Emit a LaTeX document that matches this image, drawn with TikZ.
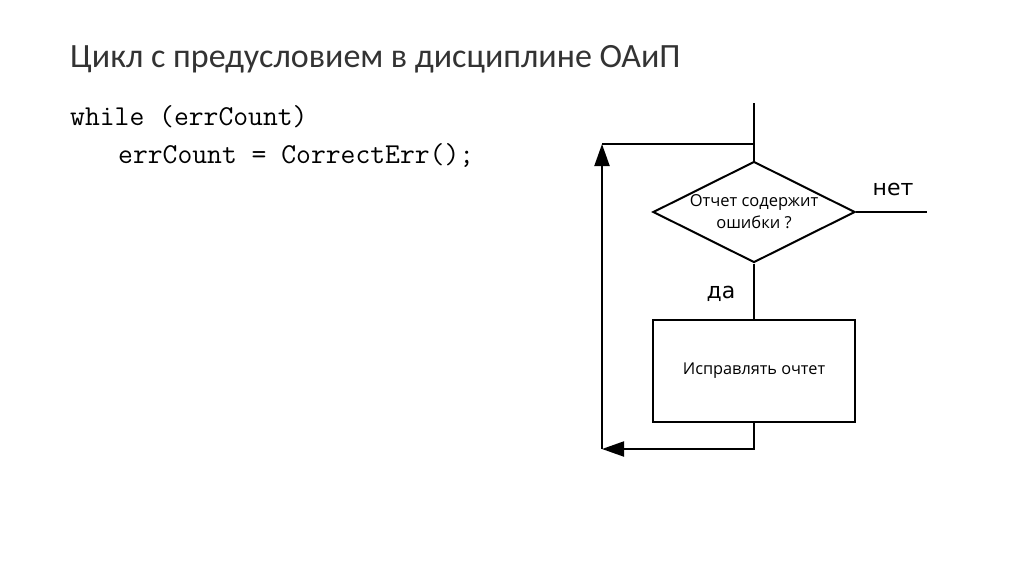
\documentclass[tikz,border=0pt]{standalone}
\usepackage{fontspec}
\setmainfont{Carlito}
\newfontfamily\labelfont{DejaVu Sans}
\newfontfamily\boxfont{Open Sans}
\usetikzlibrary{arrows.meta, shapes.geometric}
\tikzset{
    line/.style={draw=black,line width=2pt},
    arr/.style={line,-{Triangle[length=22pt,width=15pt]}},
    cnode/.style={diamond,draw,line width=2pt,minimum width=202pt,minimum height=101pt,aspect=2,inner sep=0pt,font=\boxfont\fontsize{16.5}{22}\selectfont,align=center},
    bnode/.style={rectangle,draw,line width=1.7pt,minimum width=202pt,minimum height=102pt,inner sep=0pt,font=\boxfont\fontsize{16.3}{22}\selectfont},
    tt/.style={inner sep=0pt,font=\labelfont\fontsize{22}{26}\selectfont},
    code/.style={inner sep=0pt,anchor=base west,font=\ttfamily\fontsize{28.8}{32}\selectfont},
}
\begin{document}
\begin{tikzpicture}[x=1pt,y=-1pt]
    \useasboundingbox[fill=white] (0,0) rectangle (1024,574);
    \node[inner sep=0pt,anchor=base west,font=\fontsize{34}{40}\selectfont,text=black!80] (title) at (70,67) {Цикл с предусловием в дисциплине ОАиП};
    \node[code] (c1) at (70,125) {while (errCount)};
    \node[code] (c2) at (118,163) {errCount = CorrectErr();};
    \node[cnode] (cond) at (754,212) {Отчет содержит\\ ошибки ?};
    \node[bnode] (fix) at (754,371) {Исправлять очтет};
    \node[tt] (no) at (893,189) {нет};
    \node[tt] (yes) at (721,294) {да};
    \coordinate (entry) at (754,103);
    \coordinate (join) at (754,144);
    \coordinate (backtop) at (602,144);
    \coordinate (backbot) at (602,449);
    \coordinate (noexit) at (927,212);
    \draw[line] (entry) -- (cond.north);
    \draw[line] (cond.south) -- (fix.north);
    \draw[line] (cond.east) -- (noexit);
    \draw[arr] (fix.south) |- (backbot);
    \draw[arr] (backbot) -- (backtop);
    \draw[line] (backtop) -- (join);
\end{tikzpicture}
\end{document}
